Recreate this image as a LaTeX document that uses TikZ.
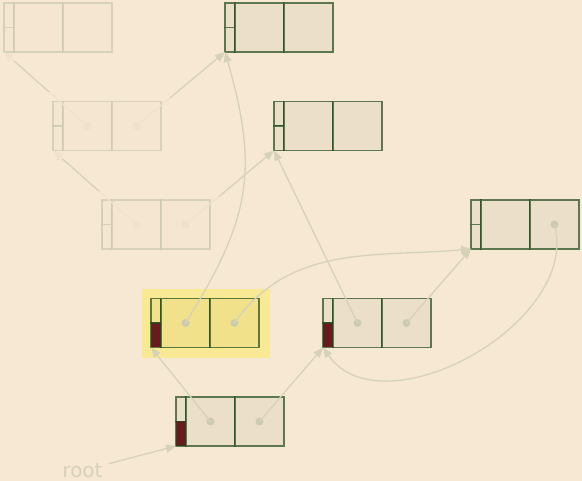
\documentclass[tikz,border=0pt]{standalone}
\usepackage{fontspec}
\newfontfamily\labelfont{DejaVu Sans}
\usetikzlibrary{arrows.meta}

\definecolor{paper}{HTML}{F7E8D3}
\definecolor{cellfill}{HTML}{EBDFCA}
\definecolor{litfill}{HTML}{F0E18A}
\definecolor{litback}{HTML}{F9E995}
\definecolor{boxline}{HTML}{1E4A1A}
\definecolor{flagred}{HTML}{6A1A1F}
\definecolor{ptrcol}{HTML}{D6D2B8}
\definecolor{dotcol}{HTML}{CDCBAF}

\tikzset{
  cell/.style={draw=boxline, draw opacity=0.7, fill=cellfill, line width=1.4pt,
    minimum width=49pt, minimum height=49pt, inner sep=0pt, outer sep=0pt},
  litcell/.style={cell, fill=litfill},
  nulltag/.style={},
  redtag/.style={fill=flagred},
  ptr/.style={draw=ptrcol, line width=1.3pt, -{Triangle[length=10pt,width=8pt]}},
}

\begin{document}
\begin{tikzpicture}[x=1pt,y=1pt]
\useasboundingbox (0,0) rectangle (582,481);
\clip (0,0) rectangle (582,481);
\fill[paper] (0,0) rectangle (582,481);
\fill[litback] (142.3,123.3) rectangle (269.7,192);

% cons cells: name / left x / middle y / cell style / tag style
\foreach \n/\x/\y/\s/\f in {a/4/453.5/cell/nulltag, b/225/453.5/cell/nulltag,
    c/53/355/cell/nulltag, d/274/355/cell/nulltag,
    e/102/256.5/cell/nulltag, f/471/256.5/cell/nulltag,
    g/151/158/litcell/redtag, h/323/158/cell/redtag, i/176/59.5/cell/redtag}{
  \node[\s, minimum width=10pt, minimum height=24.5pt] (\n-t) at (\x+5,\y+12.25) {};
  \node[\s, \f, minimum width=10pt, minimum height=24.5pt] (\n-f) at (\x+5,\y-12.25) {};
  \node[\s] (\n-a) at (\x+34.5,\y) {};
  \node[\s] (\n-b) at (\x+83.5,\y) {};
}

\foreach \n in {c-a,c-b,e-a,e-b,g-a,g-b,h-a,h-b,i-a,i-b,f-b}
  \fill[dotcol] (\n) circle (4pt);

\draw[ptr] (c-a.center) -- (a-f.south west);
\draw[ptr] (c-b.center) -- (b-f.south west);
\draw[ptr] (e-a.center) -- (c-f.south west);
\draw[ptr] (e-b.center) -- (d-f.south west);
\draw[ptr] (g-a.center) to[out=58,in=-74,looseness=1.15] (b-f.south west);
\draw[ptr] (g-b.center) to[out=55,in=185] (f-f.south west);
\draw[ptr] (h-a.center) -- (d-f.south west);
\draw[ptr] (h-b.center) -- (f-f.south west);
\draw[ptr] (f-b.center) to[out=-75,in=-55] (h-f.south west);
\draw[ptr] (i-a.center) -- (g-f.south west);
\draw[ptr] (i-b.center) -- (h-f.south west);

% faded cells
\foreach \n in {a,c,e}
  \fill[paper, opacity=0.8] ([shift={(-9pt,-9pt)}]\n-f.south west)
    rectangle ([shift={(9pt,9pt)}]\n-b.north east);

\node[font=\labelfont\fontsize{20}{24}\selectfont, text=ptrcol, inner xsep=6pt,
  inner ysep=1.5pt, anchor=base] (root) at (82.5,3.5) {root};
\draw[ptr] (root) -- (i-f.south west);
\end{tikzpicture}
\end{document}
